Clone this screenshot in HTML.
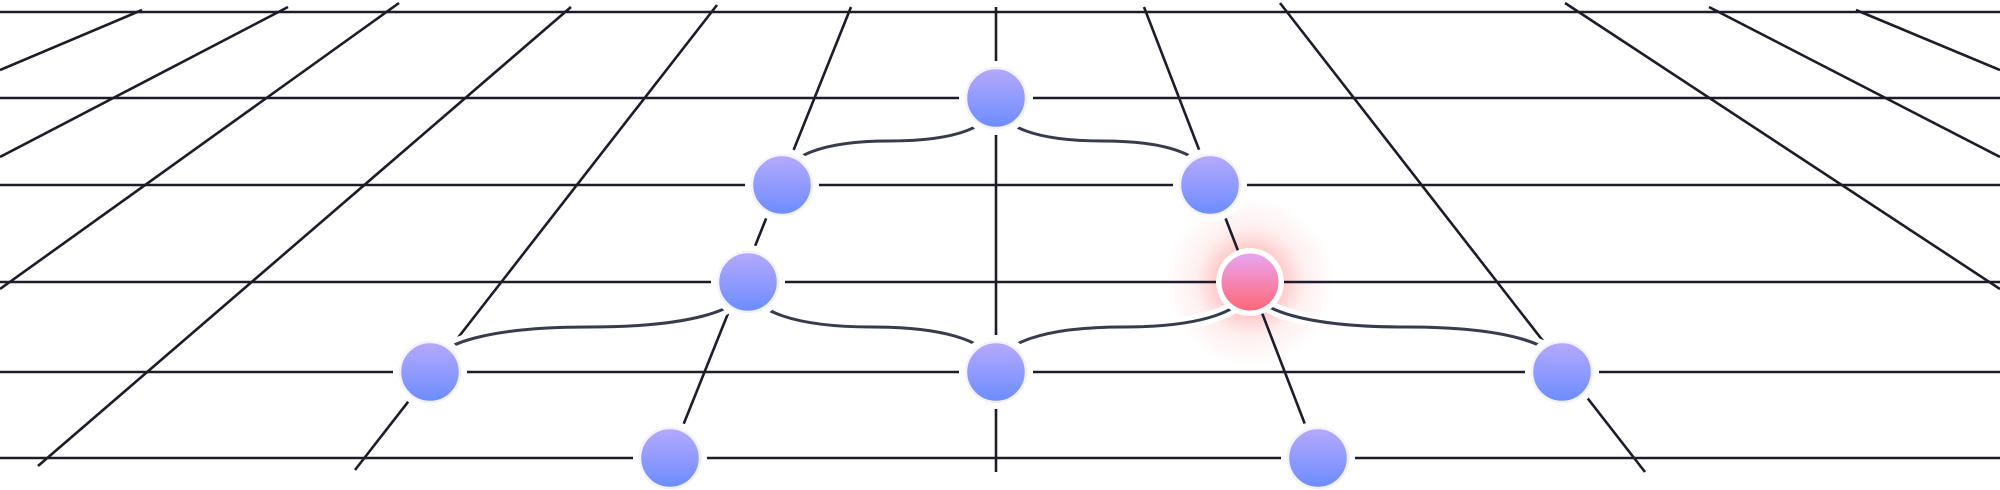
<!DOCTYPE html>
<html><head><style>html,body{margin:0;padding:0;background:#fff}svg{display:block}</style></head>
<body>
<svg width="2000" height="490" viewBox="0 0 2000 490" xmlns="http://www.w3.org/2000/svg">
<defs>
<linearGradient id="b" x1="0" y1="0" x2="0" y2="1"><stop offset="0" stop-color="#b6aafc"/><stop offset="1" stop-color="#6b8cff"/></linearGradient>
<linearGradient id="r" x1="0" y1="0" x2="0" y2="1"><stop offset="0" stop-color="#e8a6f6"/><stop offset="1" stop-color="#ff6673"/></linearGradient>
<radialGradient id="g"><stop offset="0.35" stop-color="#ff6a6a" stop-opacity="0.4"/><stop offset="0.65" stop-color="#ff8080" stop-opacity="0.12"/><stop offset="1" stop-color="#ff8080" stop-opacity="0"/></radialGradient>
</defs>
<circle cx="1250" cy="282" r="85" fill="url(#g)"/>
<g stroke="#1c1c2a" stroke-width="2.6" fill="none">
<line x1="0" y1="12" x2="2000" y2="12"/>
<line x1="0" y1="98" x2="2000" y2="98"/>
<line x1="0" y1="185" x2="2000" y2="185"/>
<line x1="0" y1="282" x2="2000" y2="282"/>
<line x1="0" y1="372" x2="2000" y2="372"/>
<line x1="0" y1="458" x2="2000" y2="458"/>
<line x1="0" y1="70" x2="142" y2="10"/>
<line x1="0" y1="157" x2="288" y2="7"/>
<line x1="0" y1="289" x2="399" y2="3"/>
<line x1="38" y1="466" x2="571" y2="7"/>
<line x1="355" y1="470" x2="717" y2="5"/>
<line x1="851" y1="7" x2="670" y2="458"/>
<line x1="996" y1="7" x2="996" y2="472"/>
<line x1="1144" y1="7" x2="1318" y2="458"/>
<line x1="1280" y1="3" x2="1645" y2="472"/>
<line x1="1565" y1="3" x2="2000" y2="289"/>
<line x1="1709" y1="7" x2="2000" y2="157"/>
<line x1="1856" y1="10" x2="2000" y2="70"/>
</g>
<g id="c" stroke="#fff" stroke-width="13" fill="none">
<path d="M996,98 C996,128 953,141 889,141 S782,155 782,185"/>
<path d="M996,98 C996,128 1039,141 1103,141 S1210,155 1210,185"/>
<path d="M748,282 C748,312 684,327 589,327 S430,342 430,372"/>
<path d="M748,282 C748,312 798,327 872,327 S996,342 996,372"/>
<path d="M1250,282 C1250,312 1199,327 1123,327 S996,342 996,372"/>
<path d="M1250,282 C1250,312 1312,327 1406,327 S1562,342 1562,372"/>
</g>
<g stroke="#363c4e" stroke-width="3" fill="none">
<path d="M996,98 C996,128 953,141 889,141 S782,155 782,185"/>
<path d="M996,98 C996,128 1039,141 1103,141 S1210,155 1210,185"/>
<path d="M748,282 C748,312 684,327 589,327 S430,342 430,372"/>
<path d="M748,282 C748,312 798,327 872,327 S996,342 996,372"/>
<path d="M1250,282 C1250,312 1199,327 1123,327 S996,342 996,372"/>
<path d="M1250,282 C1250,312 1312,327 1406,327 S1562,342 1562,372"/>
</g>
<g fill="#fff">
<circle cx="996" cy="98" r="37"/><circle cx="782" cy="185" r="37"/><circle cx="1210" cy="185" r="37"/>
<circle cx="748" cy="282" r="37"/><circle cx="1250" cy="282" r="34"/>
<circle cx="430" cy="372" r="37"/><circle cx="996" cy="372" r="37"/><circle cx="1562" cy="372" r="37"/>
<circle cx="670" cy="458" r="37"/><circle cx="1318" cy="458" r="37"/>
</g>
<g fill="url(#b)" stroke="#f4f2ff" stroke-width="2.5">
<circle cx="996" cy="98" r="30"/><circle cx="782" cy="185" r="30"/><circle cx="1210" cy="185" r="30"/>
<circle cx="748" cy="282" r="30"/>
<circle cx="430" cy="372" r="30"/><circle cx="996" cy="372" r="30"/><circle cx="1562" cy="372" r="30"/>
<circle cx="670" cy="458" r="30"/><circle cx="1318" cy="458" r="30"/>
</g>
<circle cx="1250" cy="282" r="30" fill="url(#r)" stroke="#fff" stroke-width="3"/>
</svg>
</body></html>
